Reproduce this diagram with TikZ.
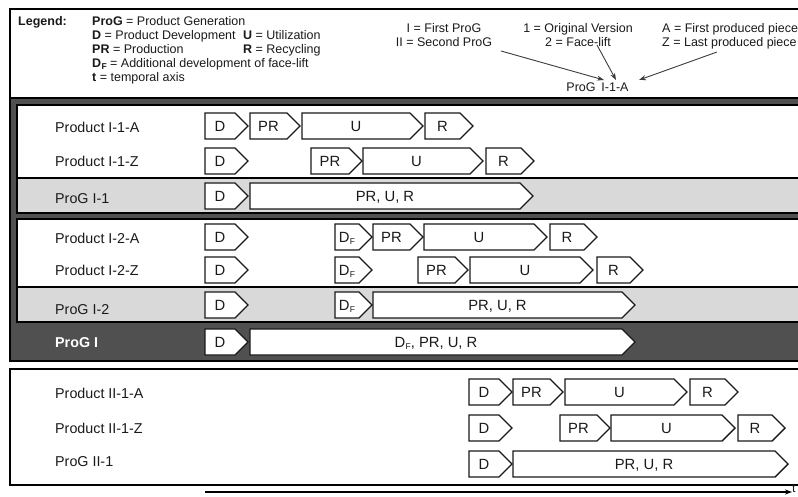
\documentclass[tikz,border=0pt]{standalone}
\usepackage{fontspec}
\setmainfont{Liberation Sans}
\usetikzlibrary{arrows.meta}
\definecolor{darkfr}{HTML}{505050}
\definecolor{rowgray}{HTML}{D9D9D9}
\definecolor{txt}{HTML}{1A1A1A}
\tikzset{
  frame/.style={draw=black, line width=1.8pt},
  chevline/.style={draw=txt, fill=white, line width=1.4pt, line join=miter},
  chevtext/.style={inner sep=0pt, text height=10.5pt, text depth=0pt, font=\fontsize{14.8}{16}\selectfont, text=txt},
  rowlabel/.style={anchor=west, inner sep=0pt, text height=10.2pt, text depth=0pt, font=\fontsize{14.3}{16}\selectfont, text=txt},
  legtext/.style={anchor=west, inner sep=0pt, text height=8.9pt, text depth=0pt, font=\fontsize{12.5}{14}\selectfont, text=txt},
  legcenter/.style={inner sep=0pt, text height=8.9pt, text depth=0pt, font=\fontsize{12.5}{14}\selectfont, text=txt},
  legarrow/.style={draw=txt!85, line width=0.9pt, -{Stealth[length=7pt,width=5pt]}},
}
\newcommand\chev[5]{%
  \path[chevline] (#2,#4-13) -- ({#3-13},#4-13) -- (#3,#4) -- ({#3-13},#4+13) -- (#2,#4+13) -- cycle;
  \node[chevtext] (#1) at ({(#2+#3-13)/2},#4) {#5};
}
\newcommand\DF{D\kern0.3pt\raisebox{-2.5pt}{\fontsize{8.5}{8.5}\selectfont F}}
\begin{document}
\begin{tikzpicture}[x=1pt,y=-1pt]
\useasboundingbox (0,0) rectangle (798,497);
\clip (0,0) rectangle (798,497);
\fill[white] (0,0) rectangle (798,497);

% legend box
\path[frame, fill=white] (10,9) rectangle (815,98);
\node[legtext, font=\fontsize{12.5}{14}\selectfont\bfseries] (leg) at (18,21) {Legend:};
\node[legtext] (l1) at (92,21) {\textbf{ProG} = Product Generation};
\node[legtext] (l2) at (92,35) {\textbf{D} = Product Development};
\node[legtext] (l3) at (92,49) {\textbf{PR} = Production};
\node[legtext] (l4) at (92,63) {\textbf{\DF} = Additional development of face-lift};
\node[legtext] (l5) at (92,77) {\textbf{t} = temporal axis};
\node[legtext] (l6) at (243,35) {\textbf{U} = Utilization};
\node[legtext] (l7) at (243,49) {\textbf{R} = Recycling};

\node[legcenter] (g1) at (444,28) {I = First ProG};
\node[legcenter] (g2) at (444,42) {II = Second ProG};
\node[legcenter] (v1) at (578,28) {1 = Original Version};
\node[legcenter] (v2) at (578,42) {2 = Face-lift};
\node[legtext] (p1) at (662,28) {A = First produced piece};
\node[legtext] (p2) at (662,42) {Z = Last produced piece};
\node[legcenter] (pg) at (581,87) {ProG};
\node[legcenter] (pid) at (615,87) {I-1-A};
\coordinate (a1s) at (501,51); \coordinate (a1e) at (604,80);
\coordinate (a2s) at (597,45); \coordinate (a2e) at (616,80);
\coordinate (a3s) at (717,52); \coordinate (a3e) at (639,80);
\draw[legarrow] (a1s) -- (a1e);
\draw[legarrow] (a2s) -- (a2e);
\draw[legarrow] (a3s) -- (a3e);

% group I frame
\path[fill=darkfr, draw=black, line width=1.5pt] (10,98) rectangle (815,361);
\fill[white] (17,105) rectangle (815,178);
\fill[rowgray] (17,178) rectangle (815,213);
\draw[black, line width=1.5pt] (17,178) -- (815,178);
\draw[black, line width=1.8pt] (17,105) rectangle (815,213);
\fill[white] (17,219) rectangle (815,287);
\fill[rowgray] (17,287) rectangle (815,322);
\draw[black, line width=1.5pt] (17,287) -- (815,287);
\draw[black, line width=1.8pt] (17,219) rectangle (815,322);

% group II frame
\path[frame, fill=white] (10,369) rectangle (815,485);

% row labels
\node[rowlabel] (r11a) at (55,127) {Product I-1-A};
\node[rowlabel] (r11z) at (55,161) {Product I-1-Z};
\node[rowlabel] (r11) at (55,198) {ProG I-1};
\node[rowlabel] (r12a) at (55,238) {Product I-2-A};
\node[rowlabel] (r12z) at (55,270) {Product I-2-Z};
\node[rowlabel] (r12) at (55,309) {ProG I-2};
\node[rowlabel, text=white, font=\fontsize{14.3}{16}\selectfont\bfseries] (r1) at (55,342) {ProG I};
\node[rowlabel] (r21a) at (55,393) {Product II-1-A};
\node[rowlabel] (r21z) at (55,428) {Product II-1-Z};
\node[rowlabel] (r21) at (55,461) {ProG II-1};

% I-1-A
\chev{aD}{205}{248}{126}{D}
\chev{aPR}{250}{300}{126}{PR}
\chev{aU}{302}{423}{126}{U}
\chev{aR}{425}{473}{126}{R}
% I-1-Z
\chev{bD}{205}{248}{161}{D}
\chev{bPR}{311}{362}{161}{PR}
\chev{bU}{363}{483}{161}{U}
\chev{bR}{486}{534}{161}{R}
% ProG I-1
\chev{cD}{205}{248}{196}{D}
\chev{cPUR}{250}{533}{196}{PR, U, R}
% I-2-A
\chev{dD}{205}{248}{237}{D}
\chev{dDF}{335}{372}{237}{\DF}
\chev{dPR}{373}{423}{237}{PR}
\chev{dU}{424}{547}{237}{U}
\chev{dR}{550}{597}{237}{R}
% I-2-Z
\chev{eD}{205}{248}{270}{D}
\chev{eDF}{335}{372}{270}{\DF}
\chev{ePR}{418}{468}{270}{PR}
\chev{eU}{470}{593}{270}{U}
\chev{eR}{597}{643}{270}{R}
% ProG I-2
\chev{fD}{205}{248}{305}{D}
\chev{fDF}{335}{372}{305}{\DF}
\chev{fPUR}{373}{635}{305}{PR, U, R}
% ProG I
\chev{gD}{205}{248}{342}{D}
\chev{gPUR}{250}{635}{342}{\DF, PR, U, R}
% II-1-A
\chev{hD}{469}{512}{392}{D}
\chev{hPR}{513}{563}{392}{PR}
\chev{hU}{565}{687}{392}{U}
\chev{hR}{690}{738}{392}{R}
% II-1-Z
\chev{iD}{469}{512}{428}{D}
\chev{iPR}{560}{610}{428}{PR}
\chev{iU}{611}{735}{428}{U}
\chev{iR}{738}{785}{428}{R}
% ProG II-1
\chev{jD}{469}{512}{464}{D}
\chev{jPUR}{513}{788}{464}{PR, U, R}

% time axis
\coordinate (t0) at (205,492);
\coordinate (t1) at (792,492);
\draw[line width=1.2pt, -{Stealth[length=7pt,width=5pt]}] (t0) -- (t1);
\node[legtext] (tlab) at (792,488) {t};
\end{tikzpicture}
\end{document}
